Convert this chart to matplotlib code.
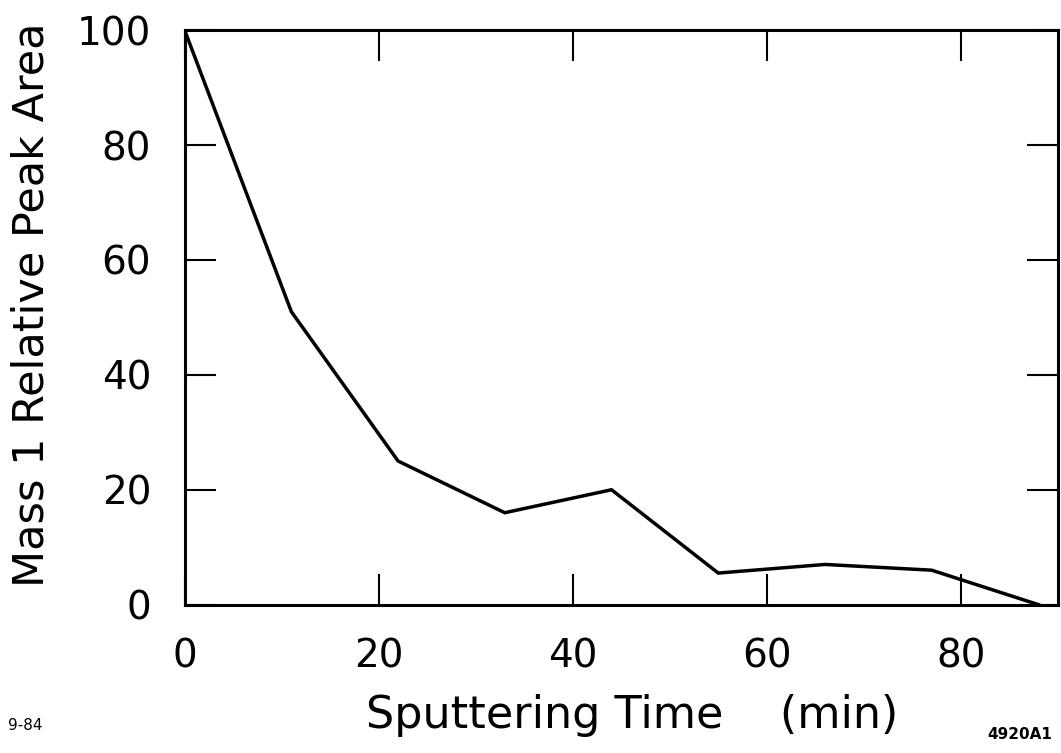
import matplotlib
matplotlib.use("Agg")
import matplotlib.pyplot as plt

# sputtering time (min) vs relative peak area of mass 1
time_min = [0, 11, 22, 33, 44, 55, 66, 77, 88]
peak_area = [100, 51, 25, 16, 20, 5.5, 7, 6, 0]
x_ticks = [0, 20, 40, 60, 80]
y_ticks = [0, 20, 40, 60, 80, 100]

plt.rcParams['font.family'] = ['DejaVu Sans']

fig = plt.figure(figsize=(10.61, 7.53), dpi=100)
ax = fig.add_axes([0.174, 0.197, 0.823, 0.763])

ax.plot(time_min, peak_area, color='black', lw=2.5, solid_joinstyle='miter')

ax.set_xlim(0, 90)
ax.set_ylim(0, 100)
ax.set_xticks(x_ticks)
ax.set_yticks(y_ticks)
ax.tick_params(direction='in', length=22, width=1.5, top=True, right=True,
               labelsize=28, pad=24)
for s in ax.spines.values():
    s.set_linewidth(2.2)

fig.text(0.596, 0.05, "Sputtering Time    (min)", ha='center', va='center',
         fontsize=32)
fig.text(0.03, 0.595, "Mass 1 Relative Peak Area", ha='center', va='center',
         rotation=90, fontsize=31)
fig.text(0.008, 0.037, "9-84", fontsize=11, ha='left', va='center')
fig.text(0.992, 0.025, "4920A1", fontsize=11, fontweight='bold',
         ha='right', va='center')

fig.savefig("out.png", dpi=100)
